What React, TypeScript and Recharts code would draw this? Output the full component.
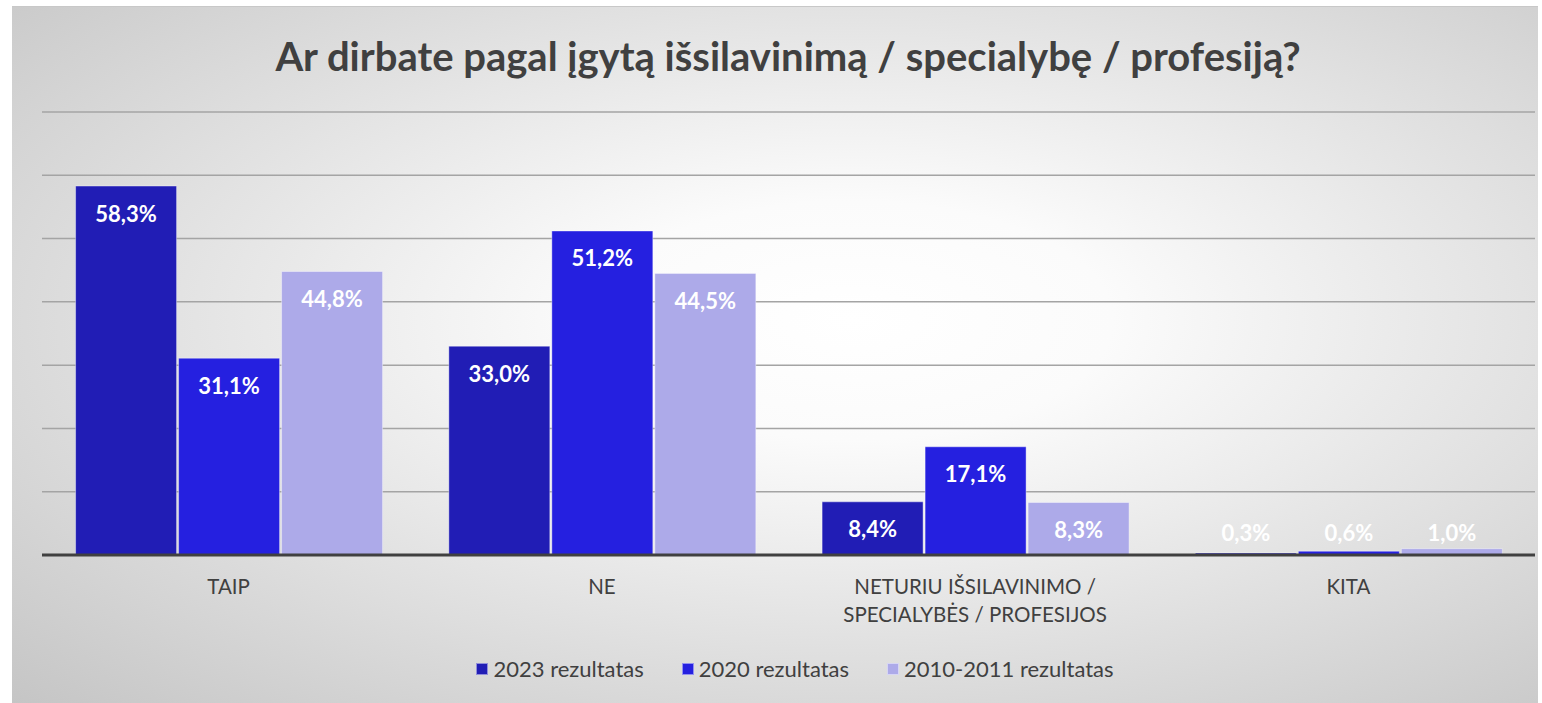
import React from 'react';
import { BarChart, Bar, XAxis, YAxis, CartesianGrid, LabelList } from 'recharts';

const categories = ['TAIP', 'NE', 'NETURIU IŠSILAVINIMO /\nSPECIALYBĖS / PROFESIJOS', 'KITA'];
const series2023 = [58.3, 33.0, 8.4, 0.3];
const series2020 = [31.1, 51.2, 17.1, 0.6];
const series2010 = [44.8, 44.5, 8.3, 1.0];
const yTicks = [0, 10, 20, 30, 40, 50, 60, 70];

const seriesDefs = [
  { key: 'r2023', name: '2023 rezultatas', color: '#211DB5' },
  { key: 'r2020', name: '2020 rezultatas', color: '#2520E0' },
  { key: 'r2010', name: '2010-2011 rezultatas', color: '#ADAAE9' },
];

const data = categories.map((c, i) => ({
  cat: c,
  r2023: series2023[i],
  r2020: series2020[i],
  r2010: series2010[i],
}));

const FONT = 'Lato, "Open Sans", sans-serif';

const fmt = (v: number) => v.toFixed(1).replace('.', ',') + '%';

const renderLabel = (props: any) => {
  const { x, y, width, height, value } = props;
  const base = Number(y) + Number(height);
  const cy = Math.min(Number(y) + 27, base - 23);
  return (
    <text
      x={Number(x) + Number(width) / 2}
      y={cy}
      textAnchor="middle"
      dominantBaseline="central"
      fill="#ffffff"
      fontFamily={FONT}
      fontWeight={700}
      fontSize={22}
    >
      {fmt(Number(value))}
    </text>
  );
};

const CatTick = (props: any) => {
  const { x, y, payload } = props;
  const lines = String(payload.value).split('\n');
  return (
    <g>
      {lines.map((l, i) => (
        <text
          key={i}
          x={x}
          y={y + 23 + i * 28}
          textAnchor="middle"
          dominantBaseline="central"
          fill="#404040"
          fontFamily={FONT}
          fontSize={20.5}
        >
          {l}
        </text>
      ))}
    </g>
  );
};

export default function App() {
  const W = 1526;
  const H = 697;
  return (
    <div
      style={{
        position: 'absolute',
        left: 12,
        top: 6,
        width: W,
        height: H,
        background:
          'radial-gradient(ellipse farthest-corner at 55% 45%, #ffffff 0%, #fbfbfb 22%, #c5c5c5 100%)',
        borderTop: '1px solid #c8c8c8',
        boxSizing: 'border-box',
      }}
    >
      <div
        style={{
          position: 'absolute',
          left: 13,
          top: 25,
          width: W,
          textAlign: 'center',
          fontFamily: FONT,
          fontWeight: 700,
          fontSize: 40,
          color: '#404040',
          lineHeight: '48px',
        }}
      >
        Ar dirbate pagal įgytą išsilavinimą / specialybę / profesiją?
      </div>
      <BarChart
        width={W}
        height={H - 1}
        data={data}
        margin={{ top: 105, right: 3, bottom: 118, left: 30 }}
        barCategoryGap="9%"
        barGap={2}
      >
        <CartesianGrid vertical={false} stroke="#a4a4a4" strokeWidth={1.5} />
        <YAxis hide domain={[0, 70]} ticks={yTicks} />
        <XAxis
          dataKey="cat"
          tickLine={false}
          axisLine={{ stroke: '#404040', strokeWidth: 3 }}
          tick={<CatTick />}
          interval={0}
        />
        {seriesDefs.map((s) => (
          <Bar
            key={s.key}
            dataKey={s.key}
            name={s.name}
            fill={s.color}
            stroke="rgba(255,255,255,0.4)"
            strokeWidth={1}
            isAnimationActive={false}
          >
            <LabelList dataKey={s.key} content={renderLabel} />
          </Bar>
        ))}
      </BarChart>
      <div
        style={{
          position: 'absolute',
          left: 20,
          top: 647,
          width: W,
          display: 'flex',
          justifyContent: 'center',
          gap: 38,
          fontFamily: FONT,
          fontSize: 22,
          color: '#404040',
          lineHeight: '30px',
        }}
      >
        {seriesDefs.map((s) => (
          <div key={s.key} style={{ display: 'flex', alignItems: 'center', gap: 5 }}>
            <span
              style={{
                display: 'inline-block',
                width: 12,
                height: 12,
                background: s.color,
                border: '1px solid rgba(255,255,255,0.5)',
                boxSizing: 'border-box',
              }}
            />
            <span>{s.name}</span>
          </div>
        ))}
      </div>
    </div>
  );
}
